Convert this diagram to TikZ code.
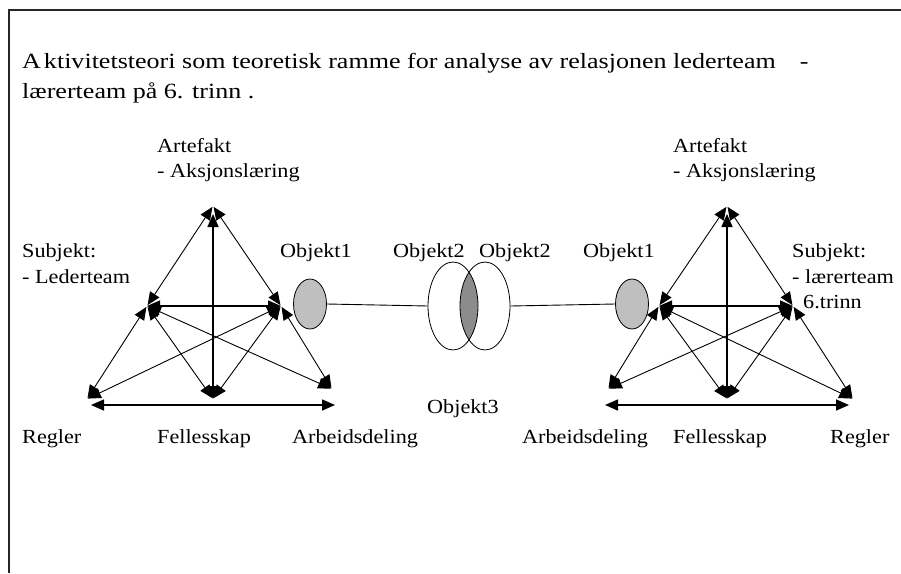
\documentclass[tikz,border=0pt]{standalone}
\usepackage{fontspec}
\setmainfont{Liberation Serif}[FakeStretch=1.11]
\newfontfamily\titlefont{Liberation Serif}[FakeStretch=1.2]
\usetikzlibrary{arrows.meta,shapes.geometric}
\tikzset{
  lab/.style={anchor=base west, inner sep=0pt, font=\fontsize{20}{24}\selectfont},
  ttl/.style={anchor=base west, inner sep=0pt, font=\titlefont\fontsize{21.7}{30}\selectfont},
  con/.style={line width=0.9pt, <->, shorten <=1pt, shorten >=1pt},
  conthick/.style={line width=1.6pt, <->},
  arrthick/.style={line width=1.6pt, ->},
  obj/.style={ellipse, draw, line width=0.8pt, inner sep=0pt, minimum width=33pt, minimum height=50pt, fill=black!25},
  venn/.style={ellipse, draw, line width=0.8pt, inner sep=0pt, minimum width=50pt, minimum height=88pt},
  tri/.pic={
    \coordinate (T) at (213,206);
    \coordinate (Tv) at (213,214);
    \coordinate (L) at (147,306);
    \coordinate (R) at (281,306);
    \coordinate (M) at (213,399);
    \coordinate (BL) at (87,399);
    \coordinate (BR) at (332,389);
    \coordinate (Mb) at (213,405);
    \coordinate (BLb) at (91,405);
    \coordinate (BRb) at (335,405);
    \draw[con] (T) -- (L);
    \draw[con] (T) -- (R);
    \draw[conthick] (Tv) -- (M);
    \draw[conthick] (L) -- (R);
    \draw[con] (L) -- (BL);
    \draw[con] (L) -- (M);
    \draw[con] (L) -- (BR);
    \draw[con] (R) -- (M);
    \draw[con] (R) -- (BL);
    \draw[con] (R) -- (BR);
    \draw[arrthick] (Mb) -- (BLb);
    \draw[arrthick] (Mb) -- (BRb);
  }
}
\begin{document}
\begin{tikzpicture}[x=1pt,y=-1pt,>={Triangle[length=13pt,width=11pt]}]
\fill[white] (0,0) rectangle (901,573);
\useasboundingbox (0,0) rectangle (901,573);
% frame
\draw[line width=2pt, black!85] (9,573) -- (9,10) -- (901,10);

% title
\node[ttl] (title1) at (22,68) {A\kern3pt ktivitetsteori som teoretisk ramme for analyse av relasjonen lederteam\hspace{24pt}-};
\node[ttl] (title2) at (22,98) {lærerteam på 6. trinn .};

% triangles
\pic (A) at (0,0) {tri};
\pic[xscale=-1] (B) at (940,0) {tri};

% objects
\node[obj] (o1) at (310,304) {};
\node[obj] (o1r) at (632,304) {};
\begin{scope}
  \clip (453,306) ellipse [x radius=25pt, y radius=44pt];
  \fill[black!45] (485,306) ellipse [x radius=25pt, y radius=44pt];
\end{scope}
\node[venn] (v1) at (453,306) {};
\node[venn] (v2) at (485,306) {};
\draw[line width=0.9pt] (o1.east) -- (v1.west);
\draw[line width=0.9pt] (v2.east) -- (o1r.west);

% labels left
\node[lab] (art1) at (157,152) {Artefakt};
\node[lab] (art2) at (157,177) {- Aksjonslæring};
\node[lab] (sub1) at (22,257) {Subjekt:};
\node[lab] (sub2) at (22,283) {- Lederteam};
\node[lab] (ob1) at (280,257) {Objekt1};
\node[lab] (reg) at (22,443) {Regler};
\node[lab] (fel) at (157,443) {Fellesskap};
\node[lab] (arb) at (292,443) {Arbeidsdeling};
% center
\node[lab] (ob2a) at (393,257) {Objekt2};
\node[lab] (ob2b) at (479,257) {Objekt2};
\node[lab] (ob3) at (427,413) {Objekt3};
% right
\node[lab] (ob1r) at (583,257) {Objekt1};
\node[lab] (art1r) at (673,152) {Artefakt};
\node[lab] (art2r) at (673,177) {- Aksjonslæring};
\node[lab] (sub1r) at (792,257) {Subjekt:};
\node[lab] (sub2r) at (792,283) {- lærerteam};
\node[lab] (sub3r) at (803,308) {6.trinn};
\node[lab] (arbr) at (522,443) {Arbeidsdeling};
\node[lab] (felr) at (673,443) {Fellesskap};
\node[lab] (regr) at (830,443) {Regler};
\end{tikzpicture}
\end{document}
